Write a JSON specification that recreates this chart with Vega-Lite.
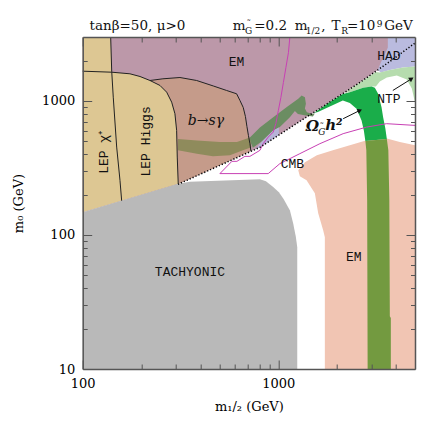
{
  "$schema": "https://vega.github.io/schema/vega-lite/v6.json",
  "width": 332.3,
  "height": 332,
  "autosize": {"type": "none"},
  "padding": {"left": 82.7, "top": 37, "right": 21, "bottom": 67},
  "background": "white",
  "config": {"view": {"stroke": null}},
  "datasets": {
    "purple": [{"m12":100,"m0":3000},{"m12":5000,"m0":3000},{"m12":5000,"m0":2704},{"m12":3718,"m0":1969},{"m12":2612,"m0":1373},{"m12":1835,"m0":983},{"m12":1289,"m0":703.6},{"m12":805,"m0":450.4},{"m12":503,"m0":330.8},{"m12":306.9,"m0":238.8},{"m12":100,"m0":147.7}],
    "lavender": [{"m12":3631,"m0":3000},{"m12":5000,"m0":3000},{"m12":5000,"m0":1807},{"m12":4332,"m0":1777},{"m12":3718,"m0":1702},{"m12":3343,"m0":1631},{"m12":3227,"m0":1702},{"m12":3343,"m0":1936},{"m12":3505,"m0":2220},{"m12":3631,"m0":2503}],
    "lightgreen": [{"m12":2189,"m0":1157},{"m12":2612,"m0":1373},{"m12":3153,"m0":1644},{"m12":3304,"m0":1631},{"m12":3718,"m0":1702},{"m12":4332,"m0":1777},{"m12":5000,"m0":1807},{"m12":5000,"m0":974.5},{"m12":4816,"m0":1239},{"m12":4541,"m0":1446},{"m12":4036,"m0":1549},{"m12":3589,"m0":1496},{"m12":3304,"m0":1397},{"m12":3153,"m0":1282},{"m12":2999,"m0":1282},{"m12":2716,"m0":1254},{"m12":2322,"m0":1163}],
    "salmon": [{"m12":1265,"m0":303.6},{"m12":1368,"m0":348.3},{"m12":1575,"m0":392.6},{"m12":1901,"m0":427.9},{"m12":2322,"m0":466.2},{"m12":2804,"m0":507.8},{"m12":3589,"m0":525.5},{"m12":4181,"m0":493.2},{"m12":5000,"m0":466.2},{"m12":5000,"m0":10},{"m12":1730,"m0":10},{"m12":1730,"m0":96.2},{"m12":1696,"m0":108.5},{"m12":1600,"m0":145.2},{"m12":1538,"m0":204.6},{"m12":1395,"m0":255.7},{"m12":1289,"m0":274}],
    "bright": [{"m12":1520,"m0":813.9},{"m12":1835,"m0":983},{"m12":2138,"m0":1127},{"m12":2322,"m0":1163},{"m12":2716,"m0":1254},{"m12":2999,"m0":1282},{"m12":3116,"m0":1254},{"m12":3239,"m0":1131},{"m12":3372,"m0":899},{"m12":3436,"m0":757},{"m12":3527,"m0":624},{"m12":3589,"m0":521.2},{"m12":2787,"m0":503.5},{"m12":2738,"m0":603},{"m12":2665,"m0":715.7},{"m12":2513,"m0":874.8},{"m12":2322,"m0":966},{"m12":2138,"m0":1009},{"m12":1835,"m0":910},{"m12":1594,"m0":828}],
    "olive": [{"m12":2787,"m0":503.5},{"m12":3589,"m0":521.2},{"m12":3653,"m0":427.9},{"m12":3696,"m0":181.5},{"m12":3718,"m0":24.8},{"m12":3762,"m0":24},{"m12":3762,"m0":10},{"m12":2863,"m0":10},{"m12":2847,"m0":181.5},{"m12":2819,"m0":427.9}],
    "brown": [{"m12":220.8,"m0":1421},{"m12":257.1,"m0":1463},{"m12":314.2,"m0":1496},{"m12":382.4,"m0":1421},{"m12":464.9,"m0":1294},{"m12":544.3,"m0":1197},{"m12":612.3,"m0":1131},{"m12":636.6,"m0":1009},{"m12":661.7,"m0":894.5},{"m12":679.1,"m0":766.2},{"m12":691.2,"m0":645.7},{"m12":703.5,"m0":553.4},{"m12":716.1,"m0":479.9},{"m12":724.4,"m0":424.4},{"m12":503,"m0":330.8},{"m12":306.9,"m0":238.8},{"m12":304.4,"m0":381.4},{"m12":302.2,"m0":603},{"m12":296.2,"m0":803},{"m12":285,"m0":979.6},{"m12":268.7,"m0":1163},{"m12":248.3,"m0":1305}],
    "bandPurple": [{"m12":707.6,"m0":525.5},{"m12":805.4,"m0":634.8},{"m12":938.5,"m0":753.4},{"m12":1106,"m0":902.3},{"m12":1265,"m0":1038},{"m12":1316,"m0":1099},{"m12":1368,"m0":1067},{"m12":1384,"m0":953.2},{"m12":1368,"m0":879.3},{"m12":1400,"m0":825.2},{"m12":1480,"m0":803},{"m12":1538,"m0":807.1},{"m12":1503,"m0":766.2},{"m12":1384,"m0":779.8},{"m12":1260,"m0":800.3},{"m12":1216,"m0":842.5},{"m12":1146,"m0":757},{"m12":1019,"m0":638},{"m12":941.9,"m0":603},{"m12":824.7,"m0":499.3},{"m12":741.7,"m0":446.7}],
    "lavPatch": [{"m12":759.3,"m0":431.5},{"m12":824.7,"m0":497.6},{"m12":941.9,"m0":600.9},{"m12":1007,"m0":632.6},{"m12":1007,"m0":556.4},{"m12":885.1,"m0":492.6},{"m12":805.4,"m0":450.4}],
    "bandBrown": [{"m12":306.9,"m0":521.2},{"m12":383.8,"m0":507.8},{"m12":503,"m0":495},{"m12":614.4,"m0":495},{"m12":716.1,"m0":534.6},{"m12":728.7,"m0":450.4},{"m12":659.4,"m0":427.9},{"m12":565.7,"m0":392.6},{"m12":463.2,"m0":386},{"m12":383.8,"m0":402.9},{"m12":306.9,"m0":427.9}],
    "tan": [{"m12":100,"m0":3000},{"m12":139,"m0":3000},{"m12":140.7,"m0":1639},{"m12":174.4,"m0":1594},{"m12":196.3,"m0":1522},{"m12":220.8,"m0":1421},{"m12":248.3,"m0":1305},{"m12":268.7,"m0":1163},{"m12":285,"m0":979.6},{"m12":296.2,"m0":803},{"m12":302.2,"m0":603},{"m12":304.4,"m0":381.4},{"m12":307.9,"m0":241.6},{"m12":100,"m0":147.7}],
    "grey": [{"m12":100,"m0":147.7},{"m12":307.9,"m0":240.9},{"m12":353.4,"m0":249.3},{"m12":805.4,"m0":260.2},{"m12":864.6,"m0":251.5},{"m12":938.5,"m0":228.8},{"m12":1007,"m0":208.2},{"m12":1062,"m0":186.2},{"m12":1146,"m0":152.9},{"m12":1191,"m0":122.3},{"m12":1230,"m0":96.7},{"m12":1250,"m0":81.1},{"m12":1250,"m0":10},{"m12":100,"m0":10}],
    "cmb": [{"m12":1146,"m0":3000},{"m12":1127,"m0":2297},{"m12":1094,"m0":1777},{"m12":1062,"m0":1373},{"m12":1031,"m0":1062},{"m12":1001,"m0":849.6},{"m12":972.1,"m0":680},{"m12":941.9,"m0":585.6},{"m12":888.2,"m0":537.4},{"m12":837.4,"m0":479.9},{"m12":805.4,"m0":427.9},{"m12":716.1,"m0":386},{"m12":675,"m0":386},{"m12":614.4,"m0":354.3},{"m12":579.2,"m0":354.3},{"m12":503,"m0":287},{"m12":888.2,"m0":287},{"m12":1019,"m0":340.7},{"m12":1289,"m0":404.3},{"m12":1632,"m0":479.9},{"m12":2146,"m0":570},{"m12":2826,"m0":638},{"m12":3577,"m0":676.6},{"m12":5000,"m0":657}],
    "blines": [
      {"l":"chargino","m12":139,"m0":3000},{"l":"chargino","m12":140.7,"m0":1667},{"l":"chargino","m12":143.3,"m0":1067},{"l":"chargino","m12":149.2,"m0":452.8},{"l":"chargino","m12":155.1,"m0":255.7},{"l":"chargino","m12":158.2,"m0":180},
      {"l":"higgs","m12":100,"m0":1667},{"l":"higgs","m12":140.7,"m0":1639},{"l":"higgs","m12":174.4,"m0":1594},{"l":"higgs","m12":196.3,"m0":1522},{"l":"higgs","m12":220.8,"m0":1421},{"l":"higgs","m12":248.3,"m0":1305},{"l":"higgs","m12":268.7,"m0":1163},{"l":"higgs","m12":285,"m0":979.6},{"l":"higgs","m12":296.2,"m0":803},{"l":"higgs","m12":302.2,"m0":603},{"l":"higgs","m12":304.4,"m0":381.4},{"l":"higgs","m12":307.9,"m0":241.6},
      {"l":"bsg","m12":220.8,"m0":1421},{"l":"bsg","m12":257.1,"m0":1463},{"l":"bsg","m12":314.2,"m0":1496},{"l":"bsg","m12":382.4,"m0":1421},{"l":"bsg","m12":464.9,"m0":1294},{"l":"bsg","m12":544.3,"m0":1197},{"l":"bsg","m12":612.3,"m0":1131},{"l":"bsg","m12":636.6,"m0":1009},{"l":"bsg","m12":661.7,"m0":894.5},{"l":"bsg","m12":679.1,"m0":766.2},{"l":"bsg","m12":691.2,"m0":645.7},{"l":"bsg","m12":703.5,"m0":553.4},{"l":"bsg","m12":716.1,"m0":479.9},{"l":"bsg","m12":724.4,"m0":424.4}
    ],
    "dotted": [{"m12":306.9,"m0":238.8},{"m12":503,"m0":330.8},{"m12":805,"m0":450.4},{"m12":1289,"m0":703.6},{"m12":1835,"m0":983},{"m12":2612,"m0":1373},{"m12":3718,"m0":1969},{"m12":5000,"m0":2704}],
    "arrows": [{"a":"ntp","m12":3851,"m0":1197},{"a":"ntp","m12":4800,"m0":1463},{"a":"om","m12":2146,"m0":737},{"a":"om","m12":2612,"m0":849.6}],
    "headNtp": [{"m12":4800,"m0":1463}],
    "headOm": [{"m12":2612,"m0":849.6}],
    "mono": [{"t":"EM","m12":610.9,"m0":1969},{"t":"HAD","m12":3675,"m0":2146},{"t":"NTP","m12":3675,"m0":1035},{"t":"CMB","m12":1180,"m0":339.5},{"t":"TACHYONIC","m12":353.4,"m0":52.8},{"t":"EM","m12":2434,"m0":68.3}],
    "lep": [{"t":"LEP χ⁺","m12":128.5,"m0":413.5},{"t":"LEP Higgs","m12":210.6,"m0":499}],
    "bsg": [{"t":"b→sγ","m12":426.6,"m0":703.6}],
    "omega": [{"t":"Ω","m12":1494,"m0":651.3},{"t":"h²","m12":1924,"m0":657}],
    "omegaSub": [{"t":"G","m12":1670,"m0":582.6}],
    "omegaTilde": [{"t":"˜","m12":1670,"m0":640}],
    "title": [{"t":"tanβ=50,  μ>0","m12":190.5,"m0":3368},{"t":"m","m12":630.6,"m0":3368},{"t":"=0.2","m12":914.5,"m0":3368},{"t":"m","m12":1309,"m0":3368},{"t":",","m12":1700,"m0":3368},{"t":"T","m12":1975,"m0":3368},{"t":"=10","m12":2652,"m0":3368},{"t":"GeV","m12":4120,"m0":3368}],
    "titleSub": [{"t":"G","m12":705.8,"m0":3183},{"t":"1/2","m12":1505,"m0":3183},{"t":"R","m12":2185,"m0":3183}],
    "titleTilde": [{"t":"˜","m12":705.8,"m0":3560}],
    "titleSup": [{"t":"9","m12":3293,"m0":3588}]
  },
  "encoding": {
    "x": {"field": "m12", "type": "quantitative", "scale": {"type": "log", "domain": [100, 5000], "nice": false}, "axis": null},
    "y": {"field": "m0", "type": "quantitative", "scale": {"type": "log", "domain": [10, 3000], "nice": false}, "axis": null}
  },
  "layer": [
    {"layer": [
      {"data": {"name": "purple"}, "mark": {"type": "line", "filled": true, "color": "#bc98a9", "strokeWidth": 0, "interpolate": "linear-closed"}, "encoding": {"order": {"value": null}}},
      {"data": {"name": "lavender"}, "mark": {"type": "line", "filled": true, "color": "#babbdf", "strokeWidth": 0, "interpolate": "linear-closed"}, "encoding": {"order": {"value": null}}},
      {"data": {"name": "lightgreen"}, "mark": {"type": "line", "filled": true, "color": "#b6dcae", "strokeWidth": 0, "interpolate": "linear-closed"}, "encoding": {"order": {"value": null}}},
      {"data": {"name": "salmon"}, "mark": {"type": "line", "filled": true, "color": "#f1c5b3", "strokeWidth": 0, "interpolate": "linear-closed"}, "encoding": {"order": {"value": null}}},
      {"data": {"name": "bright"}, "mark": {"type": "line", "filled": true, "color": "#1aad4a", "strokeWidth": 0, "interpolate": "linear-closed"}, "encoding": {"order": {"value": null}}},
      {"data": {"name": "olive"}, "mark": {"type": "line", "filled": true, "color": "#739a40", "strokeWidth": 0, "interpolate": "linear-closed"}, "encoding": {"order": {"value": null}}},
      {"data": {"name": "brown"}, "mark": {"type": "line", "filled": true, "color": "#c59b8a", "strokeWidth": 0, "interpolate": "linear-closed"}, "encoding": {"order": {"value": null}}},
      {"data": {"name": "bandPurple"}, "mark": {"type": "line", "filled": true, "color": "#6b8d62", "strokeWidth": 0, "interpolate": "linear-closed"}, "encoding": {"order": {"value": null}}},
      {"data": {"name": "lavPatch"}, "mark": {"type": "line", "filled": true, "color": "#b7b3d8", "strokeWidth": 0, "interpolate": "linear-closed"}, "encoding": {"order": {"value": null}}},
      {"data": {"name": "bandBrown"}, "mark": {"type": "line", "filled": true, "color": "#8f8b5c", "strokeWidth": 0, "interpolate": "linear-closed"}, "encoding": {"order": {"value": null}}},
      {"data": {"name": "tan"}, "mark": {"type": "line", "filled": true, "color": "#ddc793", "strokeWidth": 0, "interpolate": "linear-closed"}, "encoding": {"order": {"value": null}}},
      {"data": {"name": "grey"}, "mark": {"type": "line", "filled": true, "color": "#b9b9b9", "strokeWidth": 0, "interpolate": "linear-closed"}, "encoding": {"order": {"value": null}}},
      {"data": {"name": "cmb"}, "mark": {"type": "line", "color": "#c840b4", "strokeWidth": 1}, "encoding": {"order": {"value": null}}},
      {"data": {"name": "blines"}, "mark": {"type": "line", "color": "#222", "strokeWidth": 1}, "encoding": {"detail": {"field": "l"}, "order": {"value": null}}},
      {"data": {"name": "dotted"}, "mark": {"type": "line", "color": "#000", "strokeWidth": 1.5, "strokeDash": [1.2, 2]}, "encoding": {"order": {"value": null}}},
      {"data": {"name": "arrows"}, "mark": {"type": "line", "color": "#111", "strokeWidth": 1}, "encoding": {"detail": {"field": "a"}, "order": {"value": null}}},
      {"data": {"name": "headNtp"}, "mark": {"type": "point", "shape": "triangle-right", "filled": true, "color": "#111", "size": 28, "angle": 328, "opacity": 1}},
      {"data": {"name": "headOm"}, "mark": {"type": "point", "shape": "triangle-right", "filled": true, "color": "#111", "size": 28, "angle": 334, "opacity": 1}},
      {"data": {"name": "mono"}, "mark": {"type": "text", "font": "Liberation Mono", "fontSize": 13, "color": "#111"}, "encoding": {"text": {"field": "t"}}},
      {"data": {"name": "lep"}, "mark": {"type": "text", "font": "Liberation Mono", "fontSize": 13, "color": "#111", "angle": 270}, "encoding": {"text": {"field": "t"}}},
      {"data": {"name": "bsg"}, "mark": {"type": "text", "font": "DejaVu Serif", "fontStyle": "italic", "fontSize": 14, "color": "#111"}, "encoding": {"text": {"field": "t"}}},
      {"data": {"name": "omega"}, "mark": {"type": "text", "font": "DejaVu Serif", "fontStyle": "italic", "fontWeight": "bold", "fontSize": 15, "color": "#111"}, "encoding": {"text": {"field": "t"}}},
      {"data": {"name": "omegaSub"}, "mark": {"type": "text", "font": "DejaVu Serif", "fontStyle": "italic", "fontSize": 9, "color": "#111"}, "encoding": {"text": {"field": "t"}}},
      {"data": {"name": "omegaTilde"}, "mark": {"type": "text", "font": "DejaVu Serif", "fontSize": 9, "color": "#111"}, "encoding": {"text": {"field": "t"}}},
      {"data": {"name": "title"}, "mark": {"type": "text", "font": "DejaVu Serif", "fontSize": 13.5, "color": "#111", "baseline": "alphabetic"}, "encoding": {"text": {"field": "t"}}},
      {"data": {"name": "titleSub"}, "mark": {"type": "text", "font": "DejaVu Serif", "fontSize": 9, "color": "#111", "baseline": "alphabetic"}, "encoding": {"text": {"field": "t"}}},
      {"data": {"name": "titleTilde"}, "mark": {"type": "text", "font": "DejaVu Serif", "fontSize": 9, "color": "#111", "baseline": "alphabetic"}, "encoding": {"text": {"field": "t"}}},
      {"data": {"name": "titleSup"}, "mark": {"type": "text", "font": "DejaVu Serif", "fontSize": 9, "color": "#111", "baseline": "alphabetic"}, "encoding": {"text": {"field": "t"}}}
    ]},
    {"data": {"name": "headOm"}, "mark": {"type": "point", "opacity": 0},
      "encoding": {
        "x": {"field": "m12", "type": "quantitative", "scale": {"type": "log", "domain": [100, 5000], "nice": false},
          "axis": {"orient": "bottom", "values": [100,200,300,400,500,600,700,800,900,1000,2000,3000,4000],
            "format": "d", "labelExpr": "datum.value==100||datum.value==1000 ? datum.label : ''",
            "labelFont": "DejaVu Serif", "labelFontSize": 13, "labelColor": "#000", "labelOverlap": false, "labelFlush": false,
            "tickSize": {"condition": {"test": "datum.value==100||datum.value==1000", "value": -9}, "value": -5},
            "tickColor": "#555", "tickWidth": 1, "labelPadding": 17,
            "domain": true, "domainColor": "#555", "domainWidth": 1.5, "grid": false,
            "title": "m₁/₂ (GeV)", "titleFont": "DejaVu Serif", "titleFontSize": 13, "titleFontWeight": "normal", "titleColor": "#000", "titlePadding": 6, "zindex": 1}},
        "y": {"field": "m0", "type": "quantitative", "scale": {"type": "log", "domain": [10, 3000], "nice": false},
          "axis": {"orient": "left", "values": [10,20,30,40,50,60,70,80,90,100,200,300,400,500,600,700,800,900,1000,2000],
            "format": "d", "labelExpr": "datum.value==10||datum.value==100||datum.value==1000 ? datum.label : ''",
            "labelFont": "DejaVu Serif", "labelFontSize": 13, "labelColor": "#000", "labelOverlap": false, "labelFlush": false,
            "tickSize": {"condition": {"test": "datum.value==10||datum.value==100||datum.value==1000", "value": -9}, "value": -4.5},
            "tickColor": "#555", "tickWidth": 1, "labelPadding": 17,
            "domain": true, "domainColor": "#555", "domainWidth": 1.5, "grid": false,
            "title": "m₀ (GeV)", "titleFont": "DejaVu Serif", "titleFontSize": 13, "titleFontWeight": "normal", "titleColor": "#000", "titlePadding": 16, "zindex": 1}}
      }},
    {"data": {"name": "headOm"}, "mark": {"type": "point", "opacity": 0},
      "encoding": {
        "x": {"field": "m12", "type": "quantitative", "scale": {"type": "log", "domain": [100, 5000], "nice": false},
          "axis": {"orient": "top", "values": [100,200,300,400,500,600,700,800,900,1000,2000,3000,4000], "labels": false,
            "tickSize": {"condition": {"test": "datum.value==100||datum.value==1000", "value": -9}, "value": -5},
            "tickColor": "#555", "tickWidth": 1, "domain": true, "domainColor": "#555", "domainWidth": 1.5, "grid": false, "title": null, "zindex": 1}},
        "y": {"field": "m0", "type": "quantitative", "scale": {"type": "log", "domain": [10, 3000], "nice": false},
          "axis": {"orient": "right", "values": [10,20,30,40,50,60,70,80,90,100,200,300,400,500,600,700,800,900,1000,2000], "labels": false,
            "tickSize": {"condition": {"test": "datum.value==10||datum.value==100||datum.value==1000", "value": -9}, "value": -4.5},
            "tickColor": "#555", "tickWidth": 1, "domain": true, "domainColor": "#555", "domainWidth": 1.5, "grid": false, "title": null, "zindex": 1}}
      }}
  ],
  "resolve": {"axis": {"x": "independent", "y": "independent"}}
}
